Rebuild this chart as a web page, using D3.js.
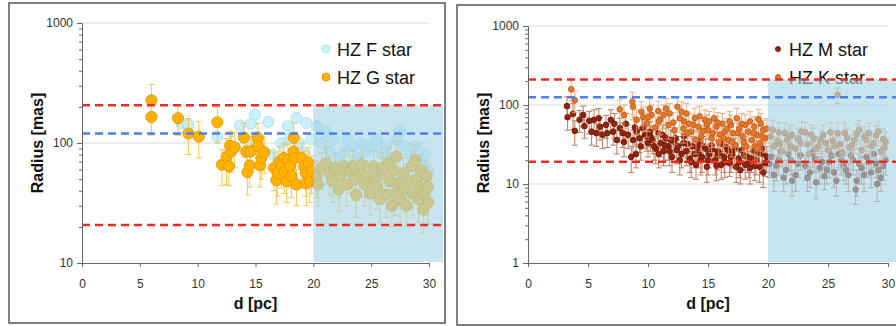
<!DOCTYPE html>
<html>
<head>
<meta charset="utf-8">
<script src="https://cdn.jsdelivr.net/npm/d3@7"></script>
<style>
  body { margin: 0; background: #fff; }
  text { font-family: "Liberation Sans", Arial, sans-serif; }
</style>
</head>
<body>
<svg id="chart" width="896" height="326"></svg>
<script>
// ---- data: [d (pc), radius (mas), error (mas)] ----
const xTicks = [0, 5, 10, 15, 20, 25, 30];

const hzFStar = [
  [8.6,145],[9.2,142],[11.7,113],[13.65,140],[14.6,145],[14.95,172],[14.65,103],[16.1,150],
  [16.5,80],[17.25,100],[17.8,138],[18.0,110],[18.55,162],[18.8,100],[19.4,147],[19.25,82],
  [19.85,107],[20.3,138],[20.7,100],[21.1,125],[21.4,85],[21.7,107],[22.2,75],[22.7,85],
  [23.0,107],[23.45,94],[23.9,75],[24.2,100],[24.6,85],[25.0,94],[25.5,107],[25.9,82],
  [26.3,94],[26.8,75],[27.2,107],[27.5,125],[27.9,94],[28.35,82],[28.8,94],[29.2,73],
  [29.65,80],[29.95,59],[29.5,64]
];

const hzGStar = [
  [6.0,227,80],[6.0,165,50],[8.3,161,45],[9.2,120,40],[10.1,113,38],[11.7,149,50],[12.1,66,22],
  [12.5,77,32],[12.7,64,20],[12.8,95,30],[12.9,85,28],[13.2,92,30],[14.0,111,35],[14.2,85,30],
  [14.3,57,20],[14.5,65,22],[14.6,85,28],[15.2,110,35],[15.2,94,30],[15.4,65,22],[15.5,75,25],
  [15.75,84,28],[16.6,62,22],[16.8,49,18],[16.9,56,20],[17.05,69,24],[17.25,64,22],[17.45,75,25],
  [17.5,58,20],[17.7,48,16],[17.8,72,25],[18.0,64,22],[18.1,53,18],[18.3,85,28],[18.3,111,35],
  [18.4,75,25],[18.55,45,15],[19.0,75,25],[19.2,64,22],[19.35,56,20],[19.4,46,16],[19.6,68,24],
  [19.7,48,16],[19.85,58,20],
  [20.3,53,18],[20.4,45,15],[20.7,62,21],[21.1,68,23],[21.4,56,19],[21.7,48,16],[21.9,62,21],
  [22.2,41,14],[22.3,53,18],[22.7,64,22],[22.9,45,15],[23.2,58,20],[23.45,64,22],[23.6,50,17],
  [23.7,37,13],[24.0,56,19],[24.2,66,22],[24.45,45,15],[24.6,53,18],[24.9,38,13],[25.2,64,22],
  [25.3,50,17],[25.5,43,15],[25.75,34,12],[25.9,56,19],[26.0,62,21],[26.3,37,13],[26.5,68,23],
  [26.6,48,16],[26.8,30,10],[26.9,59,20],[27.05,38,13],[27.2,77,26],[27.35,46,16],[27.5,34,12],
  [27.8,56,19],[27.9,42,14],[28.05,30,10],[28.2,48,16],[28.5,64,22],[28.6,38,13],[28.8,72,24],
  [28.9,50,17],[29.1,34,12],[29.2,43,15],[29.35,59,20],[29.5,28,10],[29.65,38,13],[29.8,53,18],
  [29.95,32,11],[29.9,43,15]
];

const hzMStar = [
  [3.25,97,30],[3.3,70,22],[3.75,77,28],[3.9,47,16],[4.3,65,20],[4.6,75,22],[4.7,54,16],
  [5.1,63,20],[5.3,46,15],[5.5,65,22],[5.7,44,14],[5.9,68,22],[6.0,53,17],[6.2,42,14],
  [6.5,56,18],[6.9,65,22],[7.1,46,15],[7.4,36,12],[7.65,51,17],[7.9,44,15],[8.15,58,20],
  [8.35,42,14],[8.6,22,8],[8.75,36,12],[9.05,46,16],[9.3,38,13],[9.55,51,17],[9.75,42,14],
  [10.0,33,11],[10.15,46,16],[10.4,36,12],[10.65,28,10],[10.85,44,15],[11.05,33,11],[11.3,26,9],
  [11.5,38,13],[11.7,30,10],[12.0,22,8],[12.15,34,12],[12.4,27,9],[12.65,20,7],[12.95,33,11],
  [13.2,26,9],[13.5,21,7],[13.7,30,10],[14.0,17.5,6],[14.2,25,9],[14.4,20,7],[14.6,30,10],
  [14.9,16.5,6],[15.1,24,8],[15.3,31,11],[15.6,20,7],[15.85,26,9],[16.1,17.5,6],[16.35,22,8],
  [16.55,29,10],[16.8,18.5,6],[17.05,24,8],[17.35,16.5,6],[17.55,21,7],[17.8,27,9],[18.1,17.5,6],
  [18.3,22,8],[18.5,16,6],[18.8,26,9],[19.0,20,7],[19.3,16.5,6],[19.55,24,8],[19.75,18.5,6],
  [10.2,40,14],[11.9,36,12],[13.0,40,14],[13.9,24,8],[14.8,28,9],[15.8,23,8],[16.7,26,9],
  [17.6,19,7],[18.6,21,7],[19.5,28,10],[9.0,24,8],[12.5,30,10],[11.2,42,14],[14.3,34,12],[16.2,32,11],
  [10.5,30,10],[10.9,24,8],[11.4,31,11],[11.8,26,9],[12.3,38,13],[12.8,24,8],[13.3,32,11],
  [13.6,19,7],[14.1,29,10],[14.5,22,8],[15.0,20,7],[15.4,27,9],[15.7,17,6],[16.0,24,8],
  [16.4,19,7],[16.9,22,8],[17.2,28,10],[17.7,15,5],[18.0,23,8],[18.4,19,7],[18.9,17,6],
  [19.2,25,9],[19.6,14,5],[19.9,22,8],[6.6,44,15],[7.2,58,20],[8.0,34,12],[8.9,52,18],
  [9.4,30,10],[9.9,40,14],
  [20.3,22,8],[20.5,13,5],[20.7,17,6],[21.1,26,9],[21.5,15,5],[21.9,20,7],[22.0,11,4],[22.3,13,5],
  [22.7,23,8],[23.1,17,6],[23.5,14,5],[23.9,21,7],[24.0,10.5,4],[24.3,16,6],[24.7,12.5,4],
  [25.1,19,7],[25.5,14,5],[25.9,24,8],[26.3,17,6],[26.7,13,5],[27.1,20,7],[27.3,8.5,3],
  [27.4,11,4],[27.8,16,6],[28.2,22,8],[28.6,14,5],[29.0,18,6],[29.1,10,4],[29.4,12,4],[29.8,20,7],
  [20.1,18,6],[20.9,20,7],[21.3,12,4],[21.7,24,8],[22.5,18,6],[23.3,12,4],[23.7,25,9],[24.5,19,7],
  [24.9,15,5],[25.3,23,8],[25.7,11,4],[26.1,20,7],[26.5,15,5],[26.9,23,8],[27.6,18,6],[28.0,13,5],
  [28.4,19,7],[28.8,24,8],[29.2,15,5],[29.6,17,6]
];

const hzKStar = [
  [3.6,158,45],[3.9,115,35],[7.65,88,28],[8.0,75,25],[8.7,110,35],[8.75,95,30],[9.05,65,22],
  [9.45,82,28],[9.9,59,20],[10.15,90,30],[10.3,75,25],[10.85,84,28],[11.0,65,22],[11.3,75,25],
  [11.7,56,19],[11.8,78,26],[12.45,95,32],[12.65,68,23],[12.95,50,17],[13.2,78,26],[13.4,58,20],
  [13.6,46,16],[13.9,68,23],[14.2,53,18],[14.45,40,14],[14.75,65,22],[15.0,48,16],[15.3,38,13],
  [15.5,68,23],[15.7,53,18],[16.0,42,14],[16.2,58,20],[16.4,46,16],[16.7,36,12],[16.9,56,19],
  [17.1,44,15],[17.4,68,23],[17.6,50,17],[17.9,40,14],[18.1,56,19],[18.35,46,16],[18.65,36,12],
  [18.85,53,18],[19.05,42,14],[19.35,33,11],[19.6,48,16],[19.75,38,13],
  [12.1,60,20],[13.0,62,21],[14.0,36,12],[14.9,56,19],[15.9,34,12],[16.6,50,17],[17.3,31,11],
  [18.0,34,12],[18.9,30,10],[19.4,58,20],[10.6,52,18],[9.6,70,24],
  [10.0,70,24],[10.9,62,21],[11.5,90,30],[12.2,48,16],[12.8,82,28],[13.3,44,15],[13.8,56,19],
  [14.3,72,24],[14.6,47,16],[15.1,62,21],[15.4,44,15],[15.8,60,20],[16.3,38,13],[16.8,62,21],
  [17.0,34,12],[17.5,44,15],[17.8,58,20],[18.2,30,10],[18.5,62,21],[18.8,44,15],[19.1,28,10],
  [19.5,40,14],[19.9,50,17],[19.2,66,22],
  [20.2,40,14],[20.5,30,10],[20.9,45,15],[21.2,26,9],[21.6,36,12],[22.0,42,14],[22.3,28,10],
  [22.7,34,12],[23.1,45,15],[23.4,24,8],[23.8,38,13],[24.2,30,10],[24.6,42,14],[25.0,27,9],
  [25.4,35,12],[25.8,134,30],[25.8,44,15],[26.2,25,9],[26.6,38,13],[27.0,31,11],[27.4,43,15],
  [27.8,27,9],[28.2,36,12],[28.6,30,10],[29.0,41,14],[29.4,26,9],[29.8,34,12],[20.8,35,12],
  [22.5,38,13],[24.4,36,12],[26.0,32,11],[28.0,40,14],[29.6,37,13],
  [20.4,48,16],[21.0,32,11],[21.4,44,15],[21.9,30,10],[22.8,46,16],[23.3,32,11],[23.6,42,14],
  [24.0,28,10],[24.8,33,11],[25.2,45,15],[25.6,30,10],[26.4,44,15],[26.8,29,10],[27.2,36,12],
  [27.6,48,16],[28.4,44,15],[28.8,33,11],[29.2,46,16],[29.7,29,10],[21.8,40,14]
];

// HZ limits: [upper red, blue, lower red] in mas
const limitsFG = [206, 120, 20.7];
const limitsMK = [211, 125, 19.1];
const shadeFrom = 20;

const svg = d3.select("#chart");

function panel(cfg) {
  const g = svg.append("g");

  g.append("rect")
    .attr("x", cfg.frame[0]).attr("y", cfg.frame[1])
    .attr("width", cfg.frame[2]).attr("height", cfg.frame[3])
    .attr("fill", "#fff").attr("stroke", "#555").attr("stroke-width", 1.5);

  const x = d3.scaleLinear().domain([0, 30]).range([cfg.left, cfg.right]);
  const y = d3.scaleLog().domain(cfg.yDomain).range([cfg.bottom, cfg.top]);
  const majors = cfg.majors;
  const minors = [];
  for (let i = 0; i < majors.length - 1; i++)
    for (let k = 2; k <= 9; k++) minors.push(majors[i] * k);

  // gridlines
  g.append("g").selectAll("line").data(majors.slice(1)).join("line")
    .attr("x1", cfg.left).attr("x2", cfg.right)
    .attr("y1", d => y(d)).attr("y2", d => y(d))
    .attr("stroke", "#d8d8d8").attr("stroke-width", 1);

  // series
  cfg.series.forEach(s => {
    const sg = g.append("g");
    if (s.bar) {
      const eb = sg.append("g").attr("stroke", s.bar).attr("stroke-width", 1).attr("opacity", s.barOpacity || 1);
      s.data.forEach(p => {
        const lo = y(Math.max(p[1] - p[2], cfg.yDomain[0])), hi = y(p[1] + p[2]), cx = x(p[0]);
        eb.append("line").attr("x1", cx).attr("x2", cx).attr("y1", lo).attr("y2", hi);
        eb.append("line").attr("x1", cx - s.cap).attr("x2", cx + s.cap).attr("y1", lo).attr("y2", lo);
        eb.append("line").attr("x1", cx - s.cap).attr("x2", cx + s.cap).attr("y1", hi).attr("y2", hi);
      });
    }
    sg.selectAll("circle").data(s.data).join("circle")
      .attr("cx", d => x(d[0])).attr("cy", d => y(d[1])).attr("r", s.r)
      .attr("fill", s.fill).attr("stroke", s.stroke).attr("stroke-width", 1);
  });

  // legend
  const lg = g.append("g");
  cfg.series.forEach((s, i) => {
    const ly = cfg.legend[1] + i * 28;
    lg.append("circle").attr("cx", cfg.legend[0]).attr("cy", ly).attr("r", s.lr)
      .attr("fill", s.fill).attr("stroke", s.stroke);
    lg.append("text").attr("x", cfg.legend[0] + 11).attr("y", ly + 6.5)
      .attr("font-size", 18).attr("fill", "#111").text(s.name);
  });

  // shaded region beyond 20 pc
  g.append("rect")
    .attr("x", x(shadeFrom)).attr("y", y(cfg.limits[0]))
    .attr("width", cfg.shadeRight - x(shadeFrom))
    .attr("height", cfg.bottom - 1 - y(cfg.limits[0]))
    .attr("fill", "#a6d4e4").attr("opacity", 0.62);

  // HZ limit lines
  const lineCol = ["#ee2b1c", "#4b82e6", "#ee2b1c"];
  cfg.limits.forEach((v, i) => {
    g.append("line")
      .attr("x1", cfg.left).attr("x2", cfg.shadeRight)
      .attr("y1", y(v)).attr("y2", y(v))
      .attr("stroke", lineCol[i]).attr("stroke-width", 2.5)
      .attr("stroke-dasharray", "8,5");
  });

  // axes
  const yAxis = g.append("g").attr("transform", `translate(${cfg.left},0)`)
    .call(d3.axisLeft(y).tickValues(majors).tickFormat(d3.format("d")).tickSize(5).tickPadding(4));
  g.append("g").attr("transform", `translate(${cfg.left},0)`)
    .call(d3.axisLeft(y).tickValues(minors).tickFormat("").tickSize(3))
    .call(a => a.select(".domain").remove());
  const xAxis = g.append("g").attr("transform", `translate(0,${cfg.bottom})`)
    .call(d3.axisBottom(x).tickValues(xTicks).tickFormat(d3.format("d")).tickSize(4).tickSizeOuter(0).tickPadding(12));
  [yAxis, xAxis].forEach(a => {
    a.selectAll("text").attr("font-size", 12).attr("fill", "#333").attr("font-family", null);
  });
  g.selectAll(".domain, .tick line").attr("stroke", "#666");

  g.append("text")
    .attr("x", (cfg.left + cfg.right) / 2).attr("y", cfg.bottom + 46)
    .attr("text-anchor", "middle").attr("font-size", 16).attr("font-weight", "bold")
    .attr("fill", "#111").text("d [pc]");
  g.append("text")
    .attr("transform", `translate(${cfg.ytitleX},${cfg.ytitleY}) rotate(-90)`)
    .attr("text-anchor", "middle").attr("font-size", 16).attr("font-weight", "bold")
    .attr("fill", "#111").text("Radius [mas]");
}

panel({
  frame: [9, 3, 436, 320],
  left: 82, right: 429, top: 23, bottom: 263,
  yDomain: [10, 1000], majors: [10, 100, 1000],
  limits: limitsFG, shadeRight: 443,
  legend: [326, 49], ytitleX: 43, ytitleY: 143,
  series: [
    { name: "HZ F star", data: hzFStar, r: 5.5, lr: 4, fill: "#c9f0fb", stroke: "#ade2f2" },
    { name: "HZ G star", data: hzGStar, r: 5.5, lr: 4, fill: "#ffb300", stroke: "#ea9800",
      bar: "#f2c53a", cap: 3, barOpacity: 0.9 }
  ]
});

panel({
  frame: [457, 5, 445, 320],
  left: 528, right: 888, top: 26, bottom: 263,
  yDomain: [1, 1000], majors: [1, 10, 100, 1000],
  limits: limitsMK, shadeRight: 896,
  legend: [778, 49], ytitleX: 489, ytitleY: 143,
  series: [
    { name: "HZ M star", data: hzMStar, r: 2.8, lr: 2.5, fill: "#8f2410", stroke: "#7a1c08",
      bar: "#a8502e", cap: 3, barOpacity: 0.75 },
    { name: "HZ K star", data: hzKStar, r: 2.8, lr: 2.5, fill: "#e2782c", stroke: "#c8601a",
      bar: "#eea070", cap: 3, barOpacity: 0.85 }
  ]
});
</script>
</body>
</html>
